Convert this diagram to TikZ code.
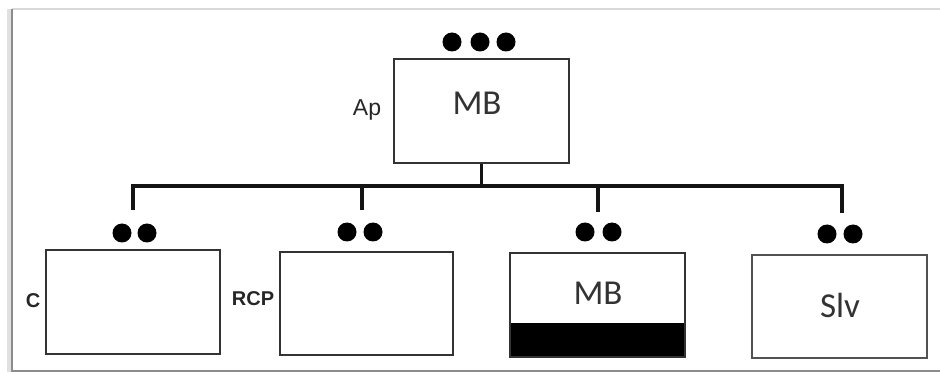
\documentclass[tikz,border=0pt]{standalone}
\usepackage{fontspec}
\setmainfont{Carlito}
\newfontfamily\arialf{Liberation Sans}
\begin{document}
\begin{tikzpicture}[x=1pt,y=-1pt,
  boxnode/.style={draw=black!80, line width=2.3pt, inner sep=0pt, anchor=north west},
  dotnode/.style={circle, fill=black, inner sep=0pt, minimum size=19pt},
  bigtext/.style={font=\fontsize{35}{35}\selectfont, text=black!80, inner sep=0pt},
  sidelabel/.style={font=\arialf\bfseries\fontsize{20}{20}\selectfont, text=black!85, inner sep=0pt},
  aplabel/.style={font=\arialf\fontsize{23}{23}\selectfont, text=black!85, inner sep=0pt},
  wire/.style={draw=black!92, line width=3.2pt}]
\useasboundingbox (0,0) rectangle (940,374);
% frame
\draw[black!15, line width=1.4pt] (940,9) -- (12,9);
\draw[black!12, line width=4pt] (9,9) -- (9,372);
\draw[black!45, line width=2pt] (12,9) -- (12,372);
\draw[black!45, line width=2pt] (12,371) -- (940,371);
% top box
\node[boxnode, minimum width=175pt, minimum height=104pt] (top) at (393,58) {};
\node[bigtext] (toptext) at (477,103) {MB};
\node[aplabel] (ap) at (367,110) {Ap};
\node[dotnode] (td1) at (452,42) {};
\node[dotnode] (td2) at (480,42) {};
\node[dotnode] (td3) at (506,42) {};
% bus
\coordinate (bus) at (480,186);
\coordinate (b1) at (133,186);
\coordinate (b2) at (362,186);
\coordinate (b3) at (598,186);
\coordinate (b4) at (842,186);
\coordinate (e1) at (133,210);
\coordinate (e2) at (362,210);
\coordinate (e3) at (598,212);
\coordinate (e4) at (842,213);
\draw[wire] (top.south) -- (top.south |- bus);
\draw[wire, line cap=rect] (b1) -- (b4);
\draw[wire] (b1) -- (e1);
\draw[wire] (b2) -- (e2);
\draw[wire] (b3) -- (e3);
\draw[wire] (b4) -- (e4);
% bottom boxes
\node[boxnode, minimum width=174pt, minimum height=104pt] (c1) at (45,249) {};
\node[sidelabel] (cl) at (33,301) {C};
\node[dotnode] (c1d1) at (122,233) {};
\node[dotnode] (c1d2) at (147,233) {};

\node[boxnode, minimum width=173pt, minimum height=103pt] (c2) at (279,251) {};
\node[sidelabel] (rcp) at (253,299) {RCP};
\node[dotnode] (c2d1) at (347,232) {};
\node[dotnode] (c2d2) at (373,232) {};

\fill[black] (509,323) rectangle (684,356);
\node[boxnode, minimum width=175pt, minimum height=104pt] (c3) at (509,252) {};
\node[bigtext] (c3text) at (598,293) {MB};
\node[dotnode] (c3d1) at (585,232) {};
\node[dotnode] (c3d2) at (612,232) {};

\node[boxnode, minimum width=175pt, minimum height=103pt, draw=black!68] (c4) at (751,254) {};
\node[bigtext] (c4text) at (840,305) {Slv};
\node[dotnode] (c4d1) at (827,234) {};
\node[dotnode] (c4d2) at (853,234) {};
\end{tikzpicture}
\end{document}
